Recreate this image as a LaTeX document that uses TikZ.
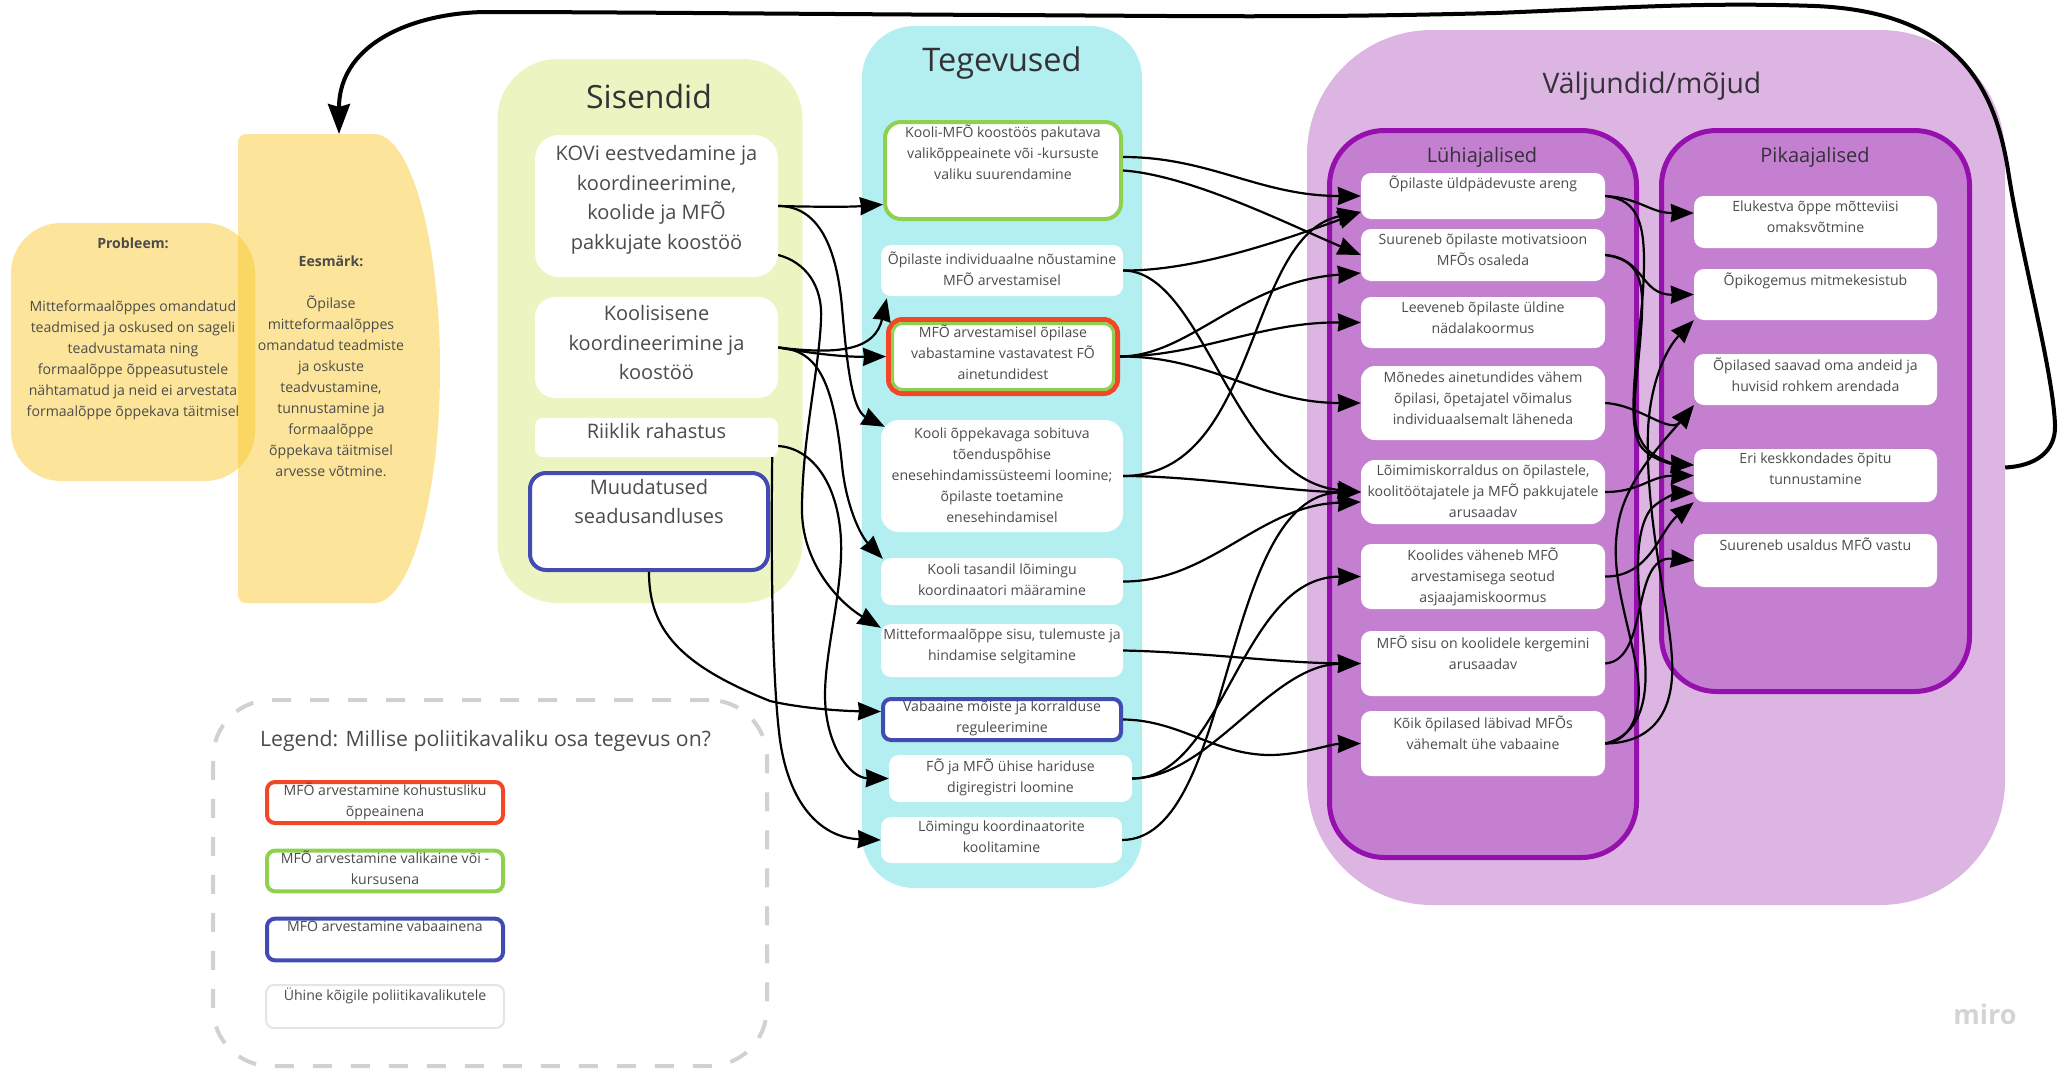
\documentclass[tikz,border=0pt]{standalone}
\usepackage{fontspec}
\setmainfont{Open Sans}
\usetikzlibrary{arrows.meta}
\definecolor{yellowbox}{RGB}{248,196,28}
\definecolor{inputpanel}{RGB}{236,245,194}
\definecolor{activitypanel}{RGB}{179,239,240}
\definecolor{outputpanel}{RGB}{221,181,227}
\definecolor{termpanel}{RGB}{196,127,209}
\definecolor{termborder}{RGB}{149,16,172}
\definecolor{optred}{RGB}{242,71,38}
\definecolor{optgreen}{RGB}{143,209,79}
\definecolor{optblue}{RGB}{65,75,178}
\definecolor{cardtext}{RGB}{75,75,75}
\definecolor{titletext}{RGB}{50,50,55}
\tikzset{
  dims/.style 2 args={minimum width=#1pt,minimum height=#2pt},
  panel/.style={inner sep=0pt,rounded corners=#1},
  card/.style={fill=white,rounded corners=10pt,inner sep=0pt,align=center,text=cardtext,text depth=4pt,font=\fontsize{14.1}{21}\selectfont},
  bigcard/.style={card,font=\fontsize{20}{29.5}\selectfont},
  optcard/.style={card,draw=#1,line width=4pt},
  paneltitle/.style={inner sep=0pt,text=titletext,font=\fontsize{#1}{#1}\selectfont},
  goalbox/.style={fill=yellowbox,fill opacity=.44},
  goaltext/.style={inner sep=0pt,align=center,text=cardtext,font=\fontsize{14.1}{21}\selectfont},
  link/.style={draw=black,line width=2.2pt,-{Stealth[length=23pt,width=18pt,inset=1pt]}},
  loopback/.style={draw=black,line width=4pt,-{Stealth[length=30pt,width=22pt,inset=3pt]}}
}
\begin{document}
\begin{tikzpicture}[x=1pt,y=-1pt]
  \useasboundingbox (0,0) rectangle (2069,1071);
  %problem and goal
  \node[goalbox,dims={244}{258},rounded corners=50pt,inner sep=0pt] (probleem) at (133,352) {};
  \fill[goalbox] (238,595) -- (238,142) arc[start angle=180,end angle=90,radius=8pt] -- (374,134)
    arc[start angle=90,end angle=-90,x radius=66pt,y radius=234.5pt] -- (246,603)
    arc[start angle=270,end angle=180,radius=8pt] -- cycle;
  \coordinate (eesmarktop) at (339,134);
  \node[goaltext] (probleemtext) at (133,328.5) {\textbf{Probleem:}\\[42pt]Mitteformaalõppes omandatud\\teadmised ja oskused on sageli\\teadvustamata ning\\formaalõppe õppeasutustele\\nähtamatud ja neid ei arvestata\\formaalõppe õppekava täitmisel};
  \node[goaltext] (eesmark) at (331,366) {\textbf{Eesmärk:}\\[21pt]Õpilase\\mitteformaalõppes\\omandatud teadmiste\\ja oskuste\\teadvustamine,\\tunnustamine ja\\formaalõppe\\õppekava täitmisel\\arvesse võtmine.};
  %inputs
  \node[panel=60pt,fill=inputpanel,dims={305}{544}] (sisendid) at (650,331) {};
  \node[paneltitle=32] (sisendidtitle) at (649,96) {Sisendid};
  \node[bigcard,dims={243}{142},rounded corners=24pt,text depth=17pt] (kovi) at (656.5,206) {KOVi eestvedamine ja\\koordineerimine,\\koolide ja MFÕ\\pakkujate koostöö};
  \node[bigcard,dims={243}{101},rounded corners=20pt,text depth=10pt] (koolisisene) at (656.5,347.5) {Koolisisene\\koordineerimine ja\\koostöö};
  \node[bigcard,dims={243}{39},rounded corners=8pt,text depth=13pt] (riiklik) at (656.5,437.5) {Riiklik rahastus};
  \node[bigcard,optcard=optblue,font=\fontsize{20}{29.5}\selectfont,dims={238}{97},rounded corners=16pt,text depth=40pt] (muudatused) at (649,521.5) {Muudatused\\seadusandluses};
  %activities
  \node[panel=52pt,fill=activitypanel,dims={280}{862}] (tegevused) at (1002,457) {};
  \node[paneltitle=32.5] (tegevusedtitle) at (1002,63) {Tegevused};
  \node[optcard=optgreen,dims={236}{97},rounded corners=16pt,text depth=37pt] (koolimfo) at (1003,170.5) {Kooli-MFÕ koostöös pakutava\\valikõppeainete või -kursuste\\valiku suurendamine};
  \node[card,dims={242}{51}] (indiv) at (1002,270.5) {Õpilaste individuaalne nõustamine\\MFÕ arvestamisel};
  \node[optcard=optred,line width=5pt,dims={229}{74},rounded corners=14pt] (arvestamine) at (1003,356.5) {};
  \node[optcard=optgreen,line width=3pt,dims={221}{66},rounded corners=10pt,text depth=9pt] (vabastamine) at (1003,356.5) {MFÕ arvestamisel õpilase\\vabastamine vastavatest FÕ\\ainetundidest};
  \node[card,dims={242}{112},rounded corners=18pt,text depth=2pt] (oppekava) at (1002,476) {Kooli õppekavaga sobituva\\tõenduspõhise\\enesehindamissüsteemi loomine;\\õpilaste toetamine\\enesehindamisel};
  \node[card,dims={242}{47}] (tasandil) at (1002,581.5) {Kooli tasandil lõimingu\\koordinaatori määramine};
  \node[card,dims={242}{53},text depth=11pt] (selgitamine) at (1002,650.5) {Mitteformaalõppe sisu, tulemuste ja\\hindamise selgitamine};
  \node[optcard=optblue,dims={238}{41},rounded corners=8pt,text depth=6pt] (vabaaine) at (1002,719.5) {Vabaaine mõiste ja korralduse\\reguleerimine};
  \node[card,dims={243}{47},text depth=6pt] (digiregister) at (1010.5,778.5) {FÕ ja MFÕ ühise hariduse\\digiregistri loomine};
  \node[card,dims={241}{46},text depth=6pt] (koolitamine) at (1001.5,840) {Lõimingu koordinaatorite\\koolitamine};
  %outputs
  \node[panel=125pt,fill=outputpanel,dims={698}{875}] (valjundid) at (1656,467.5) {};
  \node[paneltitle=28.3] (valjundidtitle) at (1652,86) {Väljundid/mõjud};
  \node[panel=55pt,fill=termpanel,draw=termborder,line width=5pt,dims={307}{727}] (luhi) at (1483,494) {};
  \node[paneltitle=20] (luhititle) at (1482,157) {Lühiajalised};
  \node[panel=55pt,fill=termpanel,draw=termborder,line width=5pt,dims={308}{561}] (pika) at (1815.5,411) {};
  \node[paneltitle=20] (pikatitle) at (1815,157) {Pikaajalised};
  %short term
  \node[card,dims={244}{46},text depth=28pt] (yldpadevus) at (1483,196) {Õpilaste üldpädevuste areng};
  \node[card,dims={244}{52},text depth=11pt] (motivatsioon) at (1483,255) {Suureneb õpilaste motivatsioon\\MFÕs osaleda};
  \node[card,dims={244}{51},text depth=10pt] (leeveneb) at (1483,322.5) {Leeveneb õpilaste üldine\\nädalakoormus};
  \node[card,dims={244}{74},rounded corners=14pt,text depth=10pt] (monedes) at (1483,403) {Mõnedes ainetundides vähem\\õpilasi, õpetajatel võimalus\\individuaalsemalt läheneda};
  \node[card,dims={244}{64},rounded corners=14pt,text depth=2pt] (loimimis) at (1483,492) {Lõimimiskorraldus on õpilastele,\\koolitöötajatele ja MFÕ pakkujatele\\arusaadav};
  \node[card,dims={244}{65},text depth=2pt] (vaheneb) at (1483,576.5) {Koolides väheneb MFÕ\\arvestamisega seotud\\asjaajamiskoormus};
  \node[card,dims={244}{65},text depth=22pt] (mfosisu) at (1483,663.5) {MFÕ sisu on koolidele kergemini\\arusaadav};
  \node[card,dims={244}{65},text depth=22pt] (koik) at (1483,743.5) {Kõik õpilased läbivad MFÕs\\vähemalt ühe vabaaine};
  %long term
  \node[card,dims={243}{52},text depth=10pt] (elukestva) at (1815.5,222) {Elukestva õppe mõtteviisi\\omaksvõtmine};
  \node[card,dims={243}{51},text depth=31pt] (opikogemus) at (1815.5,294.5) {Õpikogemus mitmekesistub};
  \node[card,dims={243}{51},text depth=10pt] (andeid) at (1815.5,379.5) {Õpilased saavad oma andeid ja\\huvisid rohkem arendada};
  \node[card,dims={243}{53},text depth=13pt] (tunnustamine) at (1815.5,475.5) {Eri keskkondades õpitu\\tunnustamine};
  \node[card,dims={243}{53},text depth=33pt] (usaldus) at (1815.5,560.5) {Suureneb usaldus MFÕ vastu};
  %legend
  \node[draw=black!18,line width=4pt,dash pattern=on 19pt off 19pt,rounded corners=58pt,dims={554}{366},inner sep=0pt] (legend) at (490,883) {};
  \node[inner sep=0pt,text=cardtext,font=\fontsize{21.2}{24}\selectfont] (legendtitle) at (485.5,741) {Legend: Millise poliitikavaliku osa tegevus on?};
  \node[optcard=optred,dims={236}{41},rounded corners=8pt,text depth=6pt] (legendred) at (385,802.5) {MFÕ arvestamine kohustusliku\\õppeainena};
  \node[optcard=optgreen,dims={236}{40},rounded corners=8pt,text depth=7pt] (legendgreen) at (385,871) {MFÕ arvestamine valikaine või -\\kursusena};
  \node[optcard=optblue,dims={236}{41},rounded corners=8pt,text depth=29pt] (legendblue) at (385,939.5) {MFÕ arvestamine vabaainena};
  \node[card,draw=black!10,line width=2pt,dims={238}{43},rounded corners=8pt,text depth=25pt] (legendwhite) at (385,1006.5) {Ühine kõigile poliitikavalikutele};
  \node[inner sep=0pt,text=black!17,font=\fontsize{27}{27}\selectfont\bfseries] (miro) at (1985,1014) {miro};
  %inputs to activities
  \draw[link] (kovi.east) .. controls (820,207) and (850,207) .. ([yshift=-34pt]koolimfo.west);
  \draw[link] (kovi.east) .. controls (815,206) and (836,240) .. (842,307) .. controls (847,365) and (852,410) .. ([shift={(4pt,-7pt)}]oppekava.north west);
  \draw[link] ([yshift=-49pt]kovi.east) .. controls (805,262) and (823,285) .. (821,320) .. controls (819,370) and (802,440) .. (802,510) .. controls (802,560) and (835,600) .. ([yshift=-4pt]selgitamine.north west);
  \draw[link] (koolisisene.east) .. controls (840,355) and (875,350) .. ([shift={(6pt,-2pt)}]indiv.south west);
  \draw[link] (koolisisene.east) .. controls (820,355) and (850,357) .. (arvestamine.west);
  \draw[link] (koolisisene.east) .. controls (815,350) and (833,375) .. (842,465) .. controls (846,505) and (860,535) .. ([shift={(2pt,-1pt)}]tasandil.north west);
  \draw[link] ([yshift=-8.5pt]riiklik.east) .. controls (810,448) and (838,480) .. (841,540) .. controls (843,590) and (825,650) .. (825,695) .. controls (825,745) and (850,778) .. (digiregister.west);
  \draw[link] ([xshift=-6pt]riiklik.south east) .. controls (771,560) and (772,680) .. (780,740) .. controls (790,810) and (825,838) .. (koolitamine.west);
  \draw[link] (muudatused.south) .. controls (649,630) and (680,665) .. (770,701) .. controls (800,708) and (840,711) .. ([yshift=8pt]vabaaine.west);
  %activities to short term
  \draw[link] ([yshift=13.5pt]koolimfo.east) .. controls (1210,157) and (1260,196) .. (yldpadevus.west);
  \draw[link] (koolimfo.east) .. controls (1190,175) and (1290,225) .. (motivatsioon.west);
  \draw[link] (indiv.east) .. controls (1190,271) and (1270,245) .. ([yshift=-16pt]yldpadevus.west);
  \draw[link] (indiv.east) .. controls (1205,271) and (1232,480) .. (loimimis.west);
  \draw[link] (arvestamine.east) .. controls (1190,356) and (1240,282) .. ([yshift=-18pt]motivatsioon.west);
  \draw[link] (arvestamine.east) .. controls (1200,356) and (1260,322) .. (leeveneb.west);
  \draw[link] (arvestamine.east) .. controls (1210,356) and (1260,403) .. (monedes.west);
  \draw[link] (oppekava.east) .. controls (1260,476) and (1245,235) .. ([yshift=-16pt]yldpadevus.west);
  \draw[link] (oppekava.east) .. controls (1200,476) and (1290,492) .. (loimimis.west);
  \draw[link] (tasandil.east) .. controls (1210,582) and (1260,505) .. ([yshift=-10pt]loimimis.west);
  \draw[link] (selgitamine.east) .. controls (1200,652) and (1280,663) .. (mfosisu.west);
  \draw[link] (vabaaine.east) .. controls (1180,720) and (1215,755) .. (1270,755) .. controls (1300,755) and (1330,744) .. (koik.west);
  \draw[link] (digiregister.east) .. controls (1225,778) and (1240,577) .. (vaheneb.west);
  \draw[link] (digiregister.east) .. controls (1210,778) and (1270,665) .. (mfosisu.west);
  \draw[link] (koolitamine.east) .. controls (1235,839) and (1220,495) .. (loimimis.west);
  %short term to long term
  \draw[link] (yldpadevus.east) .. controls (1640,198) and (1650,213) .. ([yshift=9pt]elukestva.west);
  \draw[link] (yldpadevus.east) .. controls (1640,200) and (1647,225) .. (1643,290) .. controls (1640,340) and (1625,420) .. (1640,445) .. controls (1648,458) and (1670,464) .. ([yshift=10.5pt]tunnustamine.west);
  \draw[link] (motivatsioon.east) .. controls (1645,258) and (1640,295) .. (opikogemus.west);
  \draw[link] (motivatsioon.east) .. controls (1640,260) and (1645,280) .. (1641,330) .. controls (1637,390) and (1625,430) .. (1650,452) .. controls (1660,460) and (1675,464) .. ([yshift=10.5pt]tunnustamine.west);
  \draw[link] (monedes.east) .. controls (1640,405) and (1670,435) .. (andeid.south west);
  \draw[link] (loimimis.east) .. controls (1640,492) and (1650,476) .. (tunnustamine.west);
  \draw[link] (vaheneb.east) .. controls (1650,577) and (1660,530) .. (tunnustamine.south west);
  \draw[link] (mfosisu.east) .. controls (1650,660) and (1630,555) .. (usaldus.west);
  \draw[link] (koik.east) .. controls (1635,740) and (1645,705) .. (1635,660) .. controls (1625,610) and (1610,570) .. (1618,525) .. controls (1625,480) and (1665,440) .. (andeid.south west);
  \draw[link] (koik.east) .. controls (1640,735) and (1648,700) .. (1645,660) .. controls (1640,600) and (1630,540) .. (1650,510) .. controls (1662,497) and (1680,493) .. ([yshift=-17.5pt]tunnustamine.west);
  \draw[link] (koik.east) .. controls (1650,743) and (1675,715) .. (1672,660) .. controls (1670,610) and (1645,520) .. (1648,430) .. controls (1650,385) and (1665,350) .. (opikogemus.south west);
  %feedback line
  \draw[loopback] (valjundid.east) .. controls (2035,466) and (2056,452) .. (2055,425) .. controls (2053,370) and (2020,250) .. (2008,170) .. controls (1995,90) and (1960,12) .. (1815,6) .. controls (1700,2) and (1620,8) .. (1496,13) .. controls (1300,18) and (1200,16) .. (1000,15) .. controls (800,14) and (600,12) .. (488,12) .. controls (420,12) and (339,40) .. (eesmarktop);
\end{tikzpicture}
\end{document}
